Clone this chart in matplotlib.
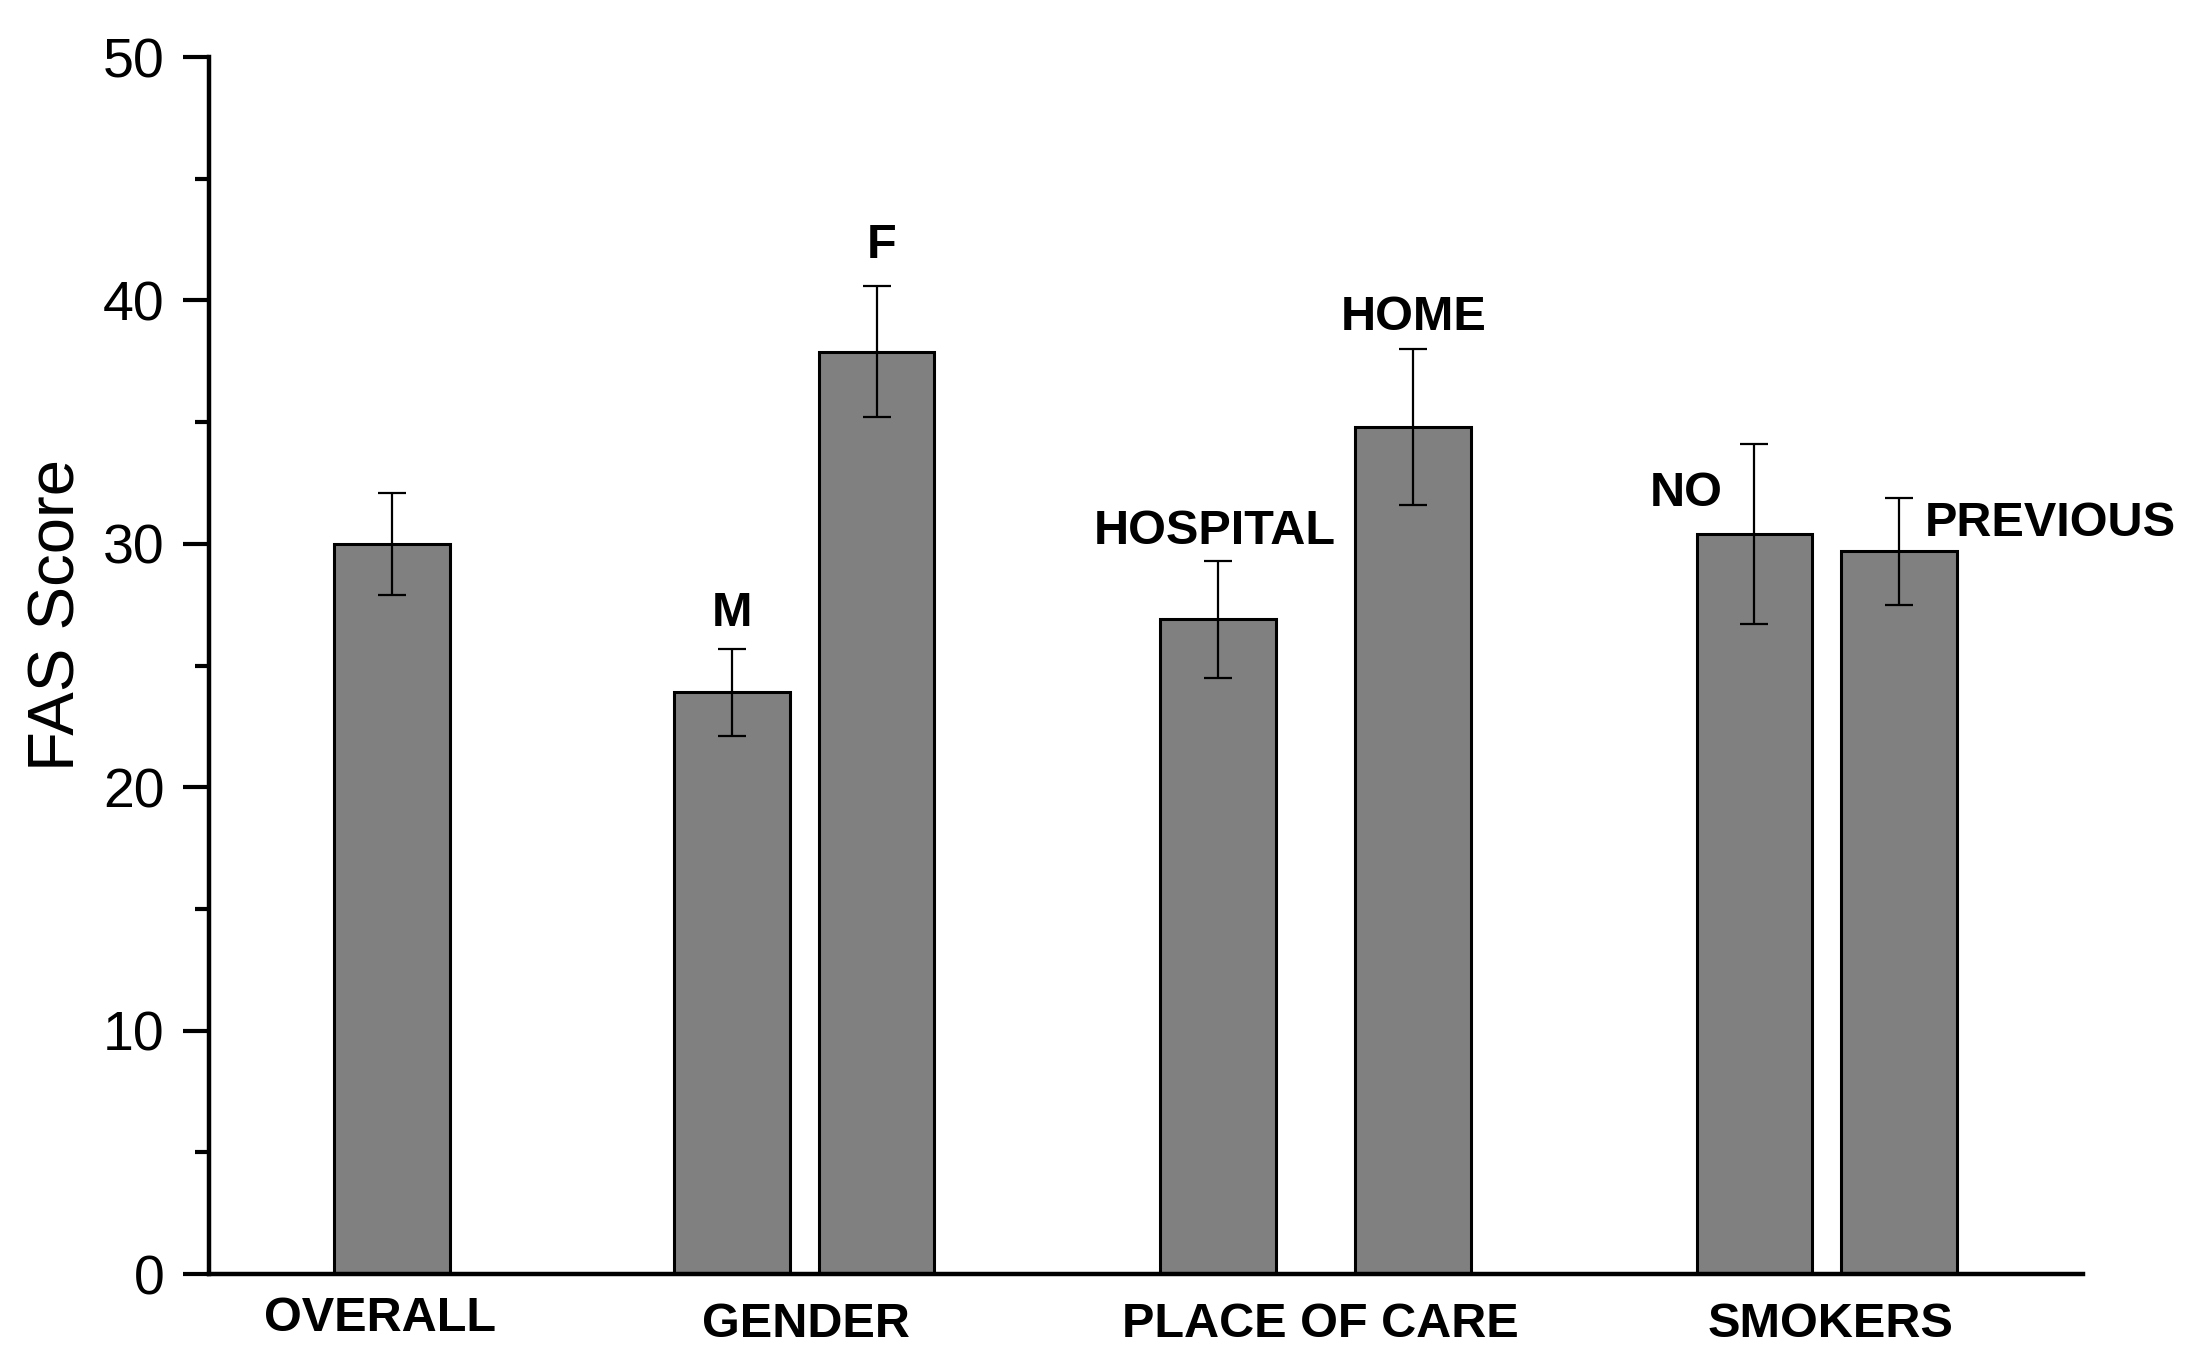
import matplotlib
matplotlib.use("Agg")
import matplotlib.pyplot as plt
from matplotlib.ticker import MultipleLocator

plt.rcParams['font.family'] = ['Liberation Sans', 'DejaVu Sans']

# Data
bar_labels = ["", "M", "F", "HOSPITAL", "HOME", "NO", "PREVIOUS"]
means = [30.0, 23.9, 37.9, 26.9, 34.8, 30.4, 29.7]
errors = [2.1, 1.8, 2.7, 2.4, 3.2, 3.7, 2.2]
groups = ["OVERALL", "GENDER", "PLACE OF CARE", "SMOKERS"]

# Layout
positions = [1.58, 4.52, 5.77, 8.72, 10.41, 13.36, 14.61]
group_pos = [1.48, 5.16, 9.61, 14.02]
group_y = [-1.82, -2.07, -2.07, -2.07]
ann_xy = [None, (4.52, 27.15), (5.81, 42.25), (8.69, 30.5), (10.41, 39.28),
          (12.77, 32.05), (15.92, 30.84)]

fig = plt.figure(figsize=(21.85, 13.62), dpi=100)
ax = fig.add_axes([0.0957, 0.0646, 0.8576, 0.8935])

ax.bar(positions, means, width=1.0, color="#808080", edgecolor="black", linewidth=2.2, zorder=2)
ax.errorbar(positions, means, yerr=errors, fmt="none", ecolor="black", elinewidth=1.6,
            capsize=10, capthick=1.6, zorder=3)

ax.set_xlim(0, 16.2)
ax.set_ylim(0, 50)
ax.yaxis.set_major_locator(MultipleLocator(10))
ax.yaxis.set_minor_locator(MultipleLocator(5))
ax.tick_params(axis='y', which='major', direction='out', length=19, width=3, pad=13, labelsize=40)
ax.tick_params(axis='y', which='minor', direction='out', length=10, width=3)
ax.set_xticks([])
for s in ["top", "right"]:
    ax.spines[s].set_visible(False)
for s in ["left", "bottom"]:
    ax.spines[s].set_linewidth(3.2)

fig.text(0.0262, 0.5485, "FAS Score", rotation=90, ha="center", va="center", fontsize=47)

for g, x, y in zip(groups, group_pos, group_y):
    ax.text(x, y, g, ha="center", va="center", fontsize=35, fontweight="bold", clip_on=False)

for lab, xy in zip(bar_labels, ann_xy):
    if xy is None:
        continue
    ax.text(xy[0], xy[1], lab, ha="center", va="center", fontsize=35, fontweight="bold", clip_on=False)

fig.savefig("out.png", dpi=100)
